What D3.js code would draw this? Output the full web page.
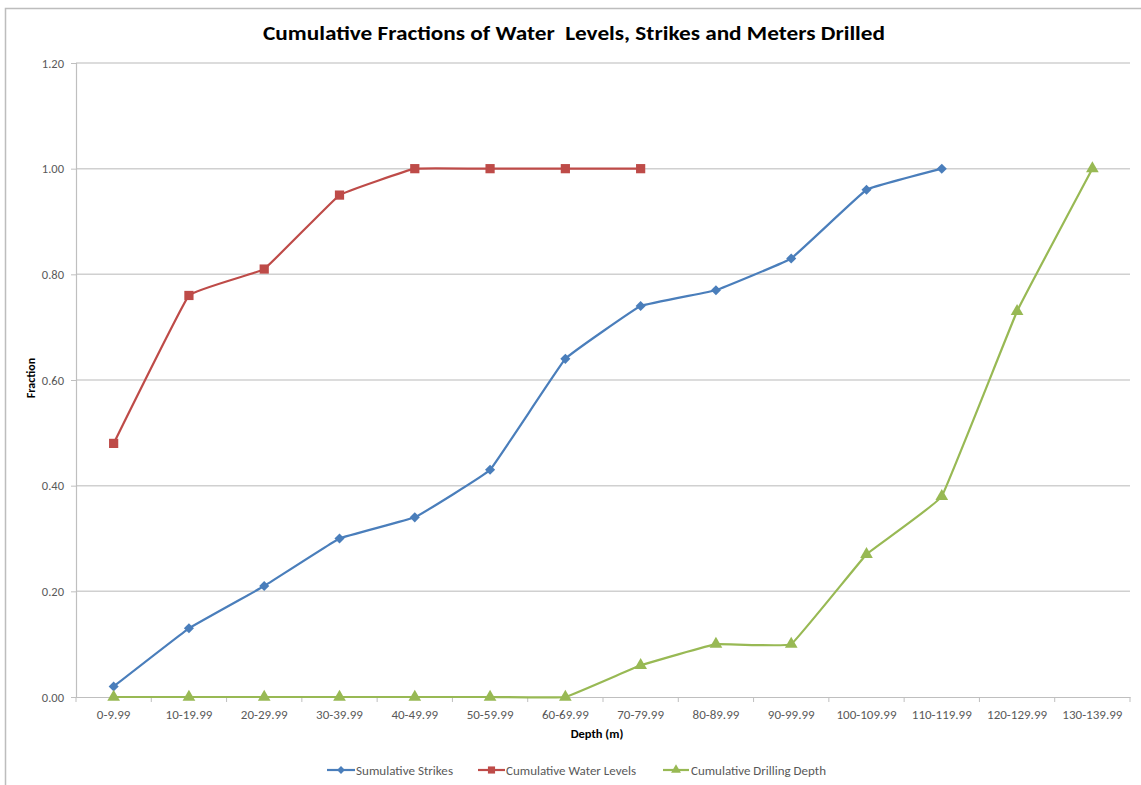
<!DOCTYPE html>
<html><head><meta charset="utf-8">
<script src="https://cdn.jsdelivr.net/npm/d3@7"></script>
<style>body{margin:0;background:#fff}svg{display:block}</style>
</head><body>
<svg id="c" width="1141" height="785"></svg>
<script>
const categories = ["0-9.99","10-19.99","20-29.99","30-39.99","40-49.99","50-59.99","60-69.99","70-79.99","80-89.99","90-99.99","100-109.99","110-119.99","120-129.99","130-139.99"];
const strikes = [0.02,0.13,0.21,0.30,0.34,0.43,0.64,0.74,0.77,0.83,0.96,1.00];
const waterLevels = [0.48,0.76,0.81,0.95,1.00,1.00,1.00,1.00];
const drilling = [0,0,0,0,0,0,0,0.06,0.10,0.10,0.27,0.38,0.73,1.00];
const yTicks = [0,0.2,0.4,0.6,0.8,1.0,1.2];
const seriesNames = ["Sumulative Strikes","Cumulative Water Levels","Cumulative Drilling Depth"];

const svg = d3.select("#c");
const font = "Carlito, 'Liberation Sans Narrow', 'Open Sans', sans-serif";
const L=76, R=1130, T=63, B=697;
const x = d3.scaleBand().domain(categories).range([L,R]);
const y = d3.scaleLinear().domain([0,1.2]).range([B,T]);
const cx = c => x(c)+x.bandwidth()/2;

svg.append("rect").attr("x",5.5).attr("y",8.5).attr("width",1160).attr("height",800)
  .attr("fill","none").attr("stroke","#bdbdbd").attr("stroke-width",1.5);

svg.append("text").attr("x",574).attr("y",40).attr("text-anchor","middle")
  .style("white-space","pre")
  .attr("font-family",font).attr("font-weight","bold").attr("font-size",21)
  .attr("textLength",622).attr("lengthAdjust","spacingAndGlyphs")
  .attr("fill","#000").text("Cumulative Fractions of Water  Levels, Strikes and Meters Drilled");

// gridlines
svg.append("g").selectAll("line").data(yTicks.filter(d=>d>0)).join("line")
  .attr("x1",L).attr("x2",R).attr("y1",d=>y(d)).attr("y2",d=>y(d))
  .attr("stroke","#d0d0d0").attr("stroke-width",1.5);

// y axis
const ya = svg.append("g").attr("transform",`translate(${L},0)`)
  .call(d3.axisLeft(y).tickValues(yTicks).tickFormat(d3.format(".2f")).tickSize(5).tickPadding(7));
ya.select(".domain").attr("stroke","#bfbfbf").attr("stroke-width",1.2);
ya.selectAll(".tick line").attr("stroke","#bfbfbf");
ya.selectAll("text").attr("font-family",font).attr("font-size",12.5).attr("fill","#595959");

// x axis
const xa = svg.append("g").attr("transform",`translate(0,${B})`)
  .call(d3.axisBottom(x).tickSize(0).tickPadding(13));
xa.select(".domain").attr("stroke","#bfbfbf").attr("stroke-width",1.2);
xa.selectAll("text").attr("font-family",font).attr("font-size",13).attr("fill","#595959");
const bounds = categories.map(c=>x(c)).concat([R]);
svg.append("g").selectAll("line").data(bounds).join("line")
  .attr("x1",d=>d).attr("x2",d=>d).attr("y1",B).attr("y2",B+5).attr("stroke","#bfbfbf");

svg.append("text").attr("x",597).attr("y",738).attr("text-anchor","middle")
  .attr("font-family",font).attr("font-weight","bold").attr("font-size",12.5).text("Depth (m)");
svg.append("text").attr("transform","translate(35,378) rotate(-90)").attr("text-anchor","middle")
  .attr("font-family",font).attr("font-weight","bold").attr("font-size",12).text("Fraction");

const diamond = {draw(ctx,size){const r=Math.sqrt(size)/2*1.3;ctx.moveTo(0,-r);ctx.lineTo(r,0);ctx.lineTo(0,r);ctx.lineTo(-r,0);ctx.closePath();}};
const series = [
  {vals:strikes, color:"#4A7EBB", sym:diamond, size:60},
  {vals:waterLevels, color:"#BE4B48", sym:d3.symbolSquare, size:85},
  {vals:drilling, color:"#98B954", sym:d3.symbolTriangle, size:70}
];
const line = d3.line().x((d,i)=>cx(categories[i])).y(d=>y(d)).curve(d3.curveCardinal.tension(0.8));
series.forEach(s=>{
  svg.append("path").attr("d",line(s.vals)).attr("fill","none").attr("stroke",s.color).attr("stroke-width",2.2);
  svg.append("g").selectAll("path").data(s.vals).join("path")
    .attr("transform",(d,i)=>`translate(${cx(categories[i])},${y(d)})`)
    .attr("d",d3.symbol().type(s.sym).size(s.size)).attr("fill",s.color);
});

// legend
const leg = [{x1:327,x2:355,tx:356,w:97},{x1:478,x2:505,tx:506,w:130},{x1:663,x2:689,tx:691,w:135}];
series.forEach((s,i)=>{
  const g = svg.append("g");
  g.append("line").attr("x1",leg[i].x1).attr("x2",leg[i].x2).attr("y1",770).attr("y2",770)
    .attr("stroke",s.color).attr("stroke-width",2.2);
  g.append("path").attr("transform",`translate(${(leg[i].x1+leg[i].x2)/2},770)`)
    .attr("d",d3.symbol().type(s.sym).size(s.size*0.6)).attr("fill",s.color);
  g.append("text").attr("x",leg[i].tx).attr("y",775).attr("font-family",font).attr("font-size",13)
    .attr("textLength",leg[i].w).attr("lengthAdjust","spacingAndGlyphs")
    .attr("fill","#595959").text(seriesNames[i]);
});
</script>
</body></html>
